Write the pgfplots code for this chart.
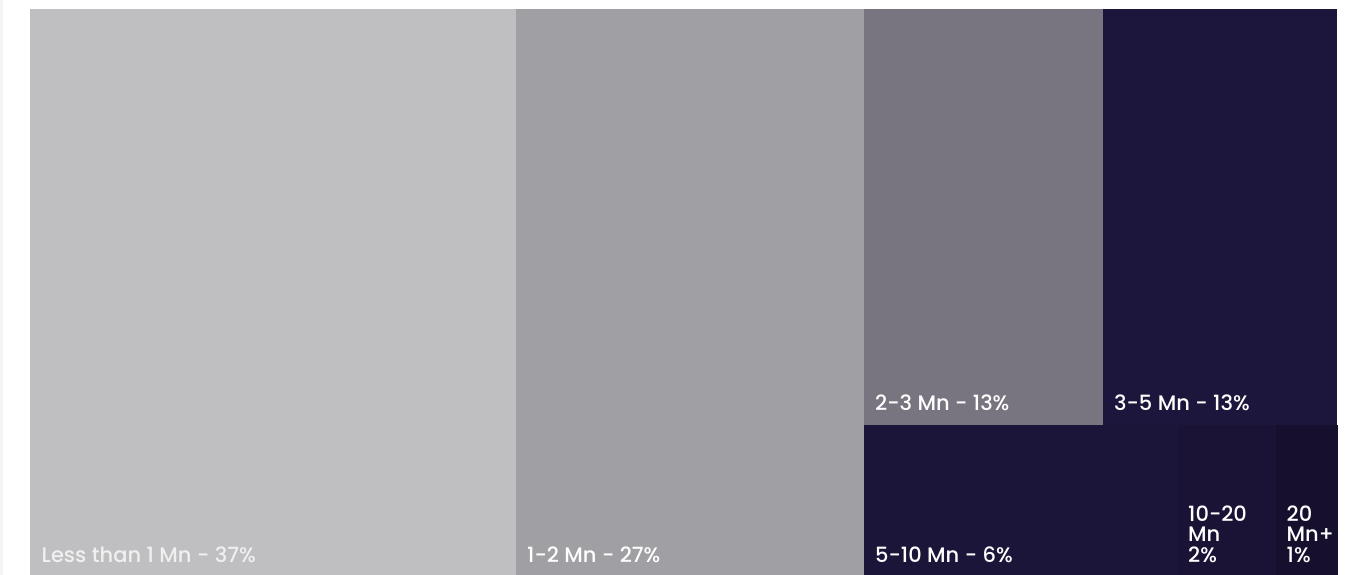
\documentclass[border=0pt]{standalone}
\usepackage{pgfplots}
\pgfplotsset{compat=1.18}
\usepackage{fontspec}
\setmainfont{Poppins}[UprightFont={* Medium}]

\definecolor{tileA}{RGB}{191,191,193}
\definecolor{tileB}{RGB}{160,159,163}
\definecolor{tileC}{RGB}{120,117,128}
\definecolor{tileD}{RGB}{29,22,60}
\definecolor{tileE}{RGB}{27,21,57}
\definecolor{tileF}{RGB}{26,19,53}
\definecolor{tileG}{RGB}{22,16,46}
\definecolor{edge}{RGB}{244,244,244}

\tikzset{lbl/.style={font=\fontsize{21}{20.5}\selectfont, text=white, anchor=base west, inner sep=0pt, align=left}}

\begin{document}
\begin{tikzpicture}
\begin{axis}[
  x=1pt, y=1pt,
  xmin=0, xmax=1351, ymin=0, ymax=575,
  y dir=reverse,
  hide axis,
  clip=false,
  scale only axis,
  every axis plot/.append style={draw=none},
]
% page background
\addplot[fill=white] coordinates {(0,0) (1351,0) (1351,575) (0,575)};
\addplot[fill=edge] coordinates {(0,0) (3,0) (3,575) (0,575)};

% treemap tiles (share of total: 37, 27, 13, 13, 6, 2, 1)
\addplot[fill=tileA] coordinates {(29.5,9) (515.7,9) (515.7,575) (29.5,575)};
\addplot[fill=tileB] coordinates {(515.7,9) (864,9) (864,575) (515.7,575)};
\addplot[fill=tileC] coordinates {(864,9) (1103,9) (1103,425) (864,425)};
\addplot[fill=tileD] coordinates {(1103,9) (1336.7,9) (1336.7,425) (1103,425)};
\addplot[fill=tileE] coordinates {(864,425) (1178,425) (1178,575) (864,575)};
\addplot[fill=tileF] coordinates {(1178,425) (1276,425) (1276,575) (1178,575)};
\addplot[fill=tileG] coordinates {(1276,425) (1337.7,425) (1337.7,575) (1276,575)};

% tile labels
\node[lbl, text=white!94!black] at (axis cs:41.5,562) {Less than 1 Mn - 37\%};
\node[lbl] at (axis cs:527,562) {1-2 Mn - 27\%};
\node[lbl] at (axis cs:875,410) {2-3 Mn - 13\%};
\node[lbl] at (axis cs:1114,410) {3-5 Mn - 13\%};
\node[lbl] at (axis cs:875,562) {5-10 Mn - 6\%};
\node[lbl] at (axis cs:1188,562) {10-20\\Mn\\2\%};
\node[lbl] at (axis cs:1286.5,562) {20\\Mn+\\1\%};
\end{axis}
\end{tikzpicture}
\end{document}
